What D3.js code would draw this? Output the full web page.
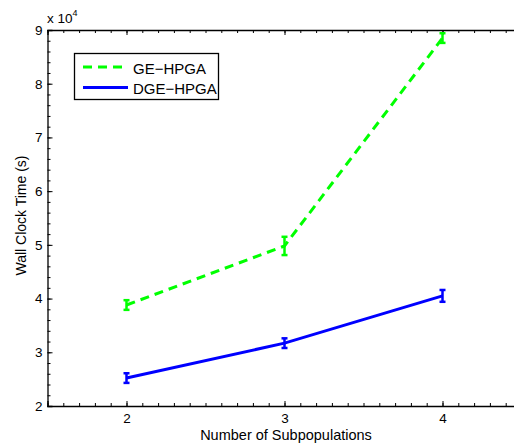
<!DOCTYPE html>
<html>
<head>
<meta charset="utf-8">
<script src="https://cdn.jsdelivr.net/npm/d3@7"></script>
<style>
  body { margin: 0; background: #fff; }
  svg { display: block; font-family: "Liberation Sans", Arial, sans-serif; }
</style>
</head>
<body>
<div id="chart"></div>
<script>
// DATA ///////////////////////////////////////////////////////////////////////
const subpops = [2, 3, 4];
const geValues = [3.88, 4.98, 8.85];     // x 10^4 s
const geErrors = [0.09, 0.17, 0.09];
const dgeValues = [2.52, 3.17, 4.05];
const dgeErrors = [0.09, 0.09, 0.11];
const xTicks = [2, 3, 4];
const yTicks = [2, 3, 4, 5, 6, 7, 8, 9];

// SETUP //////////////////////////////////////////////////////////////////////
const w = 514, h = 447;
const plotLeft = 47.5, plotRight = 521.5, plotTop = 30, plotBottom = 406;

const x = d3.scaleLinear().domain([1.5, 4.5]).range([plotLeft, plotRight]);
const y = d3.scaleLinear().domain([2, 9]).range([plotBottom, plotTop]);

const svg = d3.select("#chart").append("svg")
  .attr("width", w)
  .attr("height", h);

// axes (MATLAB style, ticks inside)
const minorX = d3.range(15, 46).map(d => d / 10);
const minorY = d3.range(10, 46).map(d => d / 5);

svg.append("g")
  .attr("transform", `translate(0,${plotBottom})`)
  .call(d3.axisBottom(x).tickValues(minorX).tickSize(-3).tickFormat(""))
  .call(g => g.select(".domain").remove());
svg.append("g")
  .attr("transform", `translate(0,${plotTop})`)
  .call(d3.axisTop(x).tickValues(minorX).tickSize(-3).tickFormat(""))
  .call(g => g.select(".domain").remove());
svg.append("g")
  .attr("transform", `translate(${plotLeft},0)`)
  .call(d3.axisLeft(y).tickValues(minorY).tickSize(-3).tickFormat(""))
  .call(g => g.select(".domain").remove());

const xAxis = svg.append("g")
  .attr("transform", `translate(0,${plotBottom})`)
  .call(d3.axisBottom(x).tickValues(xTicks).tickSize(-5).tickPadding(7).tickFormat(d3.format("d")));
const xTop = svg.append("g")
  .attr("transform", `translate(0,${plotTop})`)
  .call(d3.axisTop(x).tickValues(xTicks).tickSize(-5).tickFormat(""));
const yAxis = svg.append("g")
  .attr("transform", `translate(${plotLeft},0)`)
  .call(d3.axisLeft(y).tickValues(yTicks).tickSize(-5).tickPadding(5).tickFormat(d3.format("d")));

[xAxis, xTop, yAxis].forEach(g => {
  g.select(".domain").attr("stroke", "#000").attr("stroke-width", 1.3);
  g.selectAll("text").attr("font-size", 13.5).attr("fill", "#000").attr("font-family", "Liberation Sans, Arial, sans-serif");
});
svg.selectAll(".tick line").attr("stroke", "#000");

// multiplier
const mult = svg.append("text")
  .attr("x", 47)
  .attr("y", 22.5)
  .attr("font-size", 13.5);
mult.append("tspan").text("x 10");
mult.append("tspan").attr("font-size", 9).attr("dy", -7).text("4");

// axis labels
svg.append("text")
  .attr("x", 286)
  .attr("y", 440)
  .attr("text-anchor", "middle")
  .attr("font-size", 14.5)
  .text("Number of Subpopulations");

svg.append("text")
  .attr("transform", `translate(26,215.5) rotate(-90)`)
  .attr("text-anchor", "middle")
  .attr("font-size", 14)
  .text("Wall Clock Time (s)");

// SERIES /////////////////////////////////////////////////////////////////////
const series = [
  { name: "GE\u2212HPGA", values: geValues, errors: geErrors, color: "#00ff00", dash: "9,6" },
  { name: "DGE\u2212HPGA", values: dgeValues, errors: dgeErrors, color: "#0000ff", dash: null }
];

const line = d3.line().x(d => x(d[0])).y(d => y(d[1]));

series.forEach(s => {
  const pts = subpops.map((p, i) => [p, s.values[i]]);
  svg.append("path")
    .attr("d", line(pts))
    .attr("fill", "none")
    .attr("stroke", s.color)
    .attr("stroke-width", 3)
    .attr("stroke-dasharray", s.dash);

  const eb = svg.append("g").attr("stroke", s.color).attr("stroke-width", 2.5);
  subpops.forEach((p, i) => {
    const cx = x(p), y0 = y(s.values[i] - s.errors[i]), y1 = y(s.values[i] + s.errors[i]);
    eb.append("line").attr("x1", cx).attr("x2", cx).attr("y1", y0).attr("y2", y1);
    eb.append("line").attr("x1", cx - 3).attr("x2", cx + 3).attr("y1", y0).attr("y2", y0);
    eb.append("line").attr("x1", cx - 3).attr("x2", cx + 3).attr("y1", y1).attr("y2", y1);
  });
});

// LEGEND /////////////////////////////////////////////////////////////////////
const legend = svg.append("g");
legend.append("rect")
  .attr("x", 74.5).attr("y", 53.5)
  .attr("width", 144).attr("height", 46)
  .attr("fill", "#fff")
  .attr("stroke", "#000")
  .attr("stroke-width", 1.3);

series.forEach((s, i) => {
  const ly = 67 + i * 20.5;
  legend.append("line")
    .attr("x1", 83).attr("x2", 128)
    .attr("y1", ly).attr("y2", ly)
    .attr("stroke", s.color)
    .attr("stroke-width", 3)
    .attr("stroke-dasharray", s.dash);
  legend.append("text")
    .attr("x", 133)
    .attr("y", ly + 6.5)
    .attr("font-size", 15)
    .text(s.name);
});
</script>
</body>
</html>
